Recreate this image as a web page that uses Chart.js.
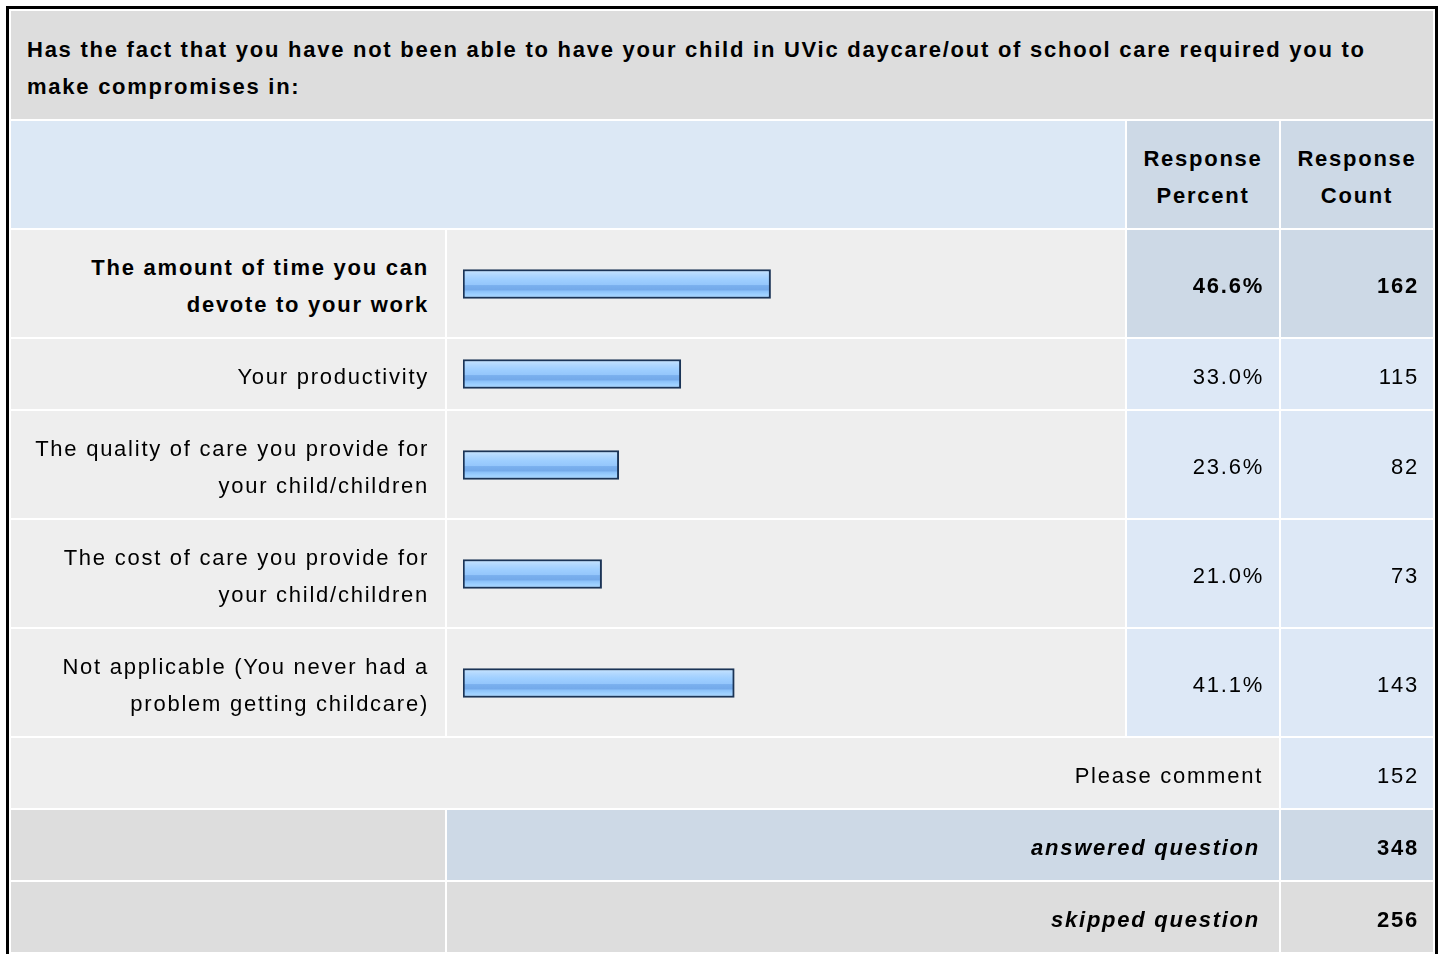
<!DOCTYPE html>
<html>
<head>
<meta charset="utf-8">
<script src="https://cdn.jsdelivr.net/npm/chart.js@4/dist/chart.umd.min.js"></script>
<style>
  html, body { margin: 0; padding: 0; background: #fff; overflow: hidden; }
  body { width: 1443px; height: 954px; }
  #box {
    position: absolute; left: 6px; top: 6px; width: 1426px;
    border: 3px solid #000; border-bottom: none; background: #fff;
  }
  table {
    border-collapse: separate; border-spacing: 2px; table-layout: fixed;
    width: 1426px; margin: 0;
    font-family: Arial, "Liberation Sans", sans-serif; font-size: 22px;
    line-height: 37px; letter-spacing: 1.75px; color: #000;
  }
  td { padding: 4px 0 0 0; vertical-align: middle; }
  .title { background: #dddddd; font-weight: bold; padding: 5px 16px 0 16px; }
  .hblank { background: #dce8f5; }
  .hcol { background: #cdd9e6; font-weight: bold; text-align: center; }
  .lab { background: #eeeeee; text-align: right; padding-right: 16px; }
  .bar { background: #eeeeee; padding: 0; }
  .bar canvas { display: block; }
  .pct { background: #dde8f6; text-align: right; padding-right: 15px; }
  .cnt { background: #dde8f6; text-align: right; padding-right: 14px; }
  .top .pct, .top .cnt { background: #cdd9e6; }
  .top td { font-weight: bold; }
  .gray { background: #dddddd; }
  .sum { background: #cdd9e6; text-align: right; padding-right: 19px; font-weight: bold; font-style: italic; }
  .sum.gray { background: #dddddd; }
  .sumc { background: #cdd9e6; text-align: right; padding-right: 14px; font-weight: bold; }
  .sumc.gray { background: #dddddd; }
</style>
</head>
<body>
<div id="box">
  <table id="tbl">
    <colgroup>
      <col style="width:434px"><col style="width:678px"><col style="width:152px"><col style="width:152px">
    </colgroup>
    <tbody id="body"></tbody>
  </table>
</div>
<script>
// question text
const titleLines = [
  "Has the fact that you have not been able to have your child in UVic daycare/out of school care required you to",
  "make compromises in:"
];
const headerPercent = ["Response", "Percent"];
const headerCount = ["Response", "Count"];

// answer options (one entry per line of the label)
const categories = [
  ["The amount of time you can", "devote to your work"],
  ["Your productivity"],
  ["The quality of care you provide for", "your child/children"],
  ["The cost of care you provide for", "your child/children"],
  ["Not applicable (You never had a", "problem getting childcare)"]
];
const percents = [46.6, 33.0, 23.6, 21.0, 41.1];
const counts = [162, 115, 82, 73, 143];

const commentLabel = "Please comment";
const commentCount = 152;
const answeredCount = 348;
const skippedCount = 256;

const body = document.getElementById("body");
const maxPct = Math.max(...percents);

function row(height, cls, html) {
  const tr = document.createElement("tr");
  tr.style.height = height + "px";
  if (cls) tr.className = cls;
  tr.innerHTML = html;
  body.appendChild(tr);
  return tr;
}

row(108, "", `<td class="title" colspan="4">${titleLines.join("<br>")}</td>`);
row(107, "", `<td class="hblank" colspan="2"></td>
  <td class="hcol">${headerPercent.join("<br>")}</td>
  <td class="hcol">${headerCount.join("<br>")}</td>`);

const canvases = [];
categories.forEach((lines, i) => {
  const h = lines.length > 1 ? 107 : 70;
  const tr = row(h, percents[i] === maxPct ? "top" : "",
    `<td class="lab">${lines.join("<br>")}</td>
     <td class="bar"><canvas width="678" height="40"></canvas></td>
     <td class="pct">${percents[i].toFixed(1)}%</td>
     <td class="cnt">${counts[i]}</td>`);
  canvases.push(tr.querySelector("canvas"));
});

row(70, "", `<td class="lab" colspan="3">${commentLabel}</td><td class="cnt">${commentCount}</td>`);
row(70, "", `<td class="gray"></td><td class="sum" colspan="2">answered question</td><td class="sumc">${answeredCount}</td>`);
row(70, "", `<td class="gray"></td><td class="sum gray" colspan="2">skipped question</td><td class="sumc gray">${skippedCount}</td>`);

/* glossy blue fill for the bars */
function barFill(context) {
  const { ctx, chartArea } = context.chart;
  if (!chartArea) return "#99ccff";
  const mid = (chartArea.top + chartArea.bottom) / 2;
  const g = ctx.createLinearGradient(0, mid - 13, 0, mid + 13);
  g.addColorStop(0, "#c3e2ff");
  g.addColorStop(0.15, "#b0d7fe");
  g.addColorStop(0.32, "#9fcfff");
  g.addColorStop(0.52, "#95c7fc");
  g.addColorStop(0.56, "#7ab0ee");
  g.addColorStop(0.72, "#74aaea");
  g.addColorStop(0.78, "#8cc2fa");
  g.addColorStop(0.9, "#9dd0ff");
  g.addColorStop(1, "#a6d4ff");
  return g;
}

canvases.forEach((cv, i) => {
  new Chart(cv, {
    type: "bar",
    data: {
      labels: [categories[i].join(" ")],
      datasets: [{
        data: [percents[i]],
        backgroundColor: barFill,
        borderColor: "#1b3456",
        borderWidth: 2,
        borderSkipped: false,
        barThickness: 29
      }]
    },
    options: {
      indexAxis: "y",
      responsive: false,
      animation: false,
      events: [],
      layout: { padding: { left: 16, right: 2, top: 0, bottom: 0 } },
      plugins: { legend: { display: false }, tooltip: { enabled: false } },
      scales: {
        x: { min: 0, max: 100, display: false },
        y: { display: false }
      }
    }
  });
});
</script>
</body>
</html>
